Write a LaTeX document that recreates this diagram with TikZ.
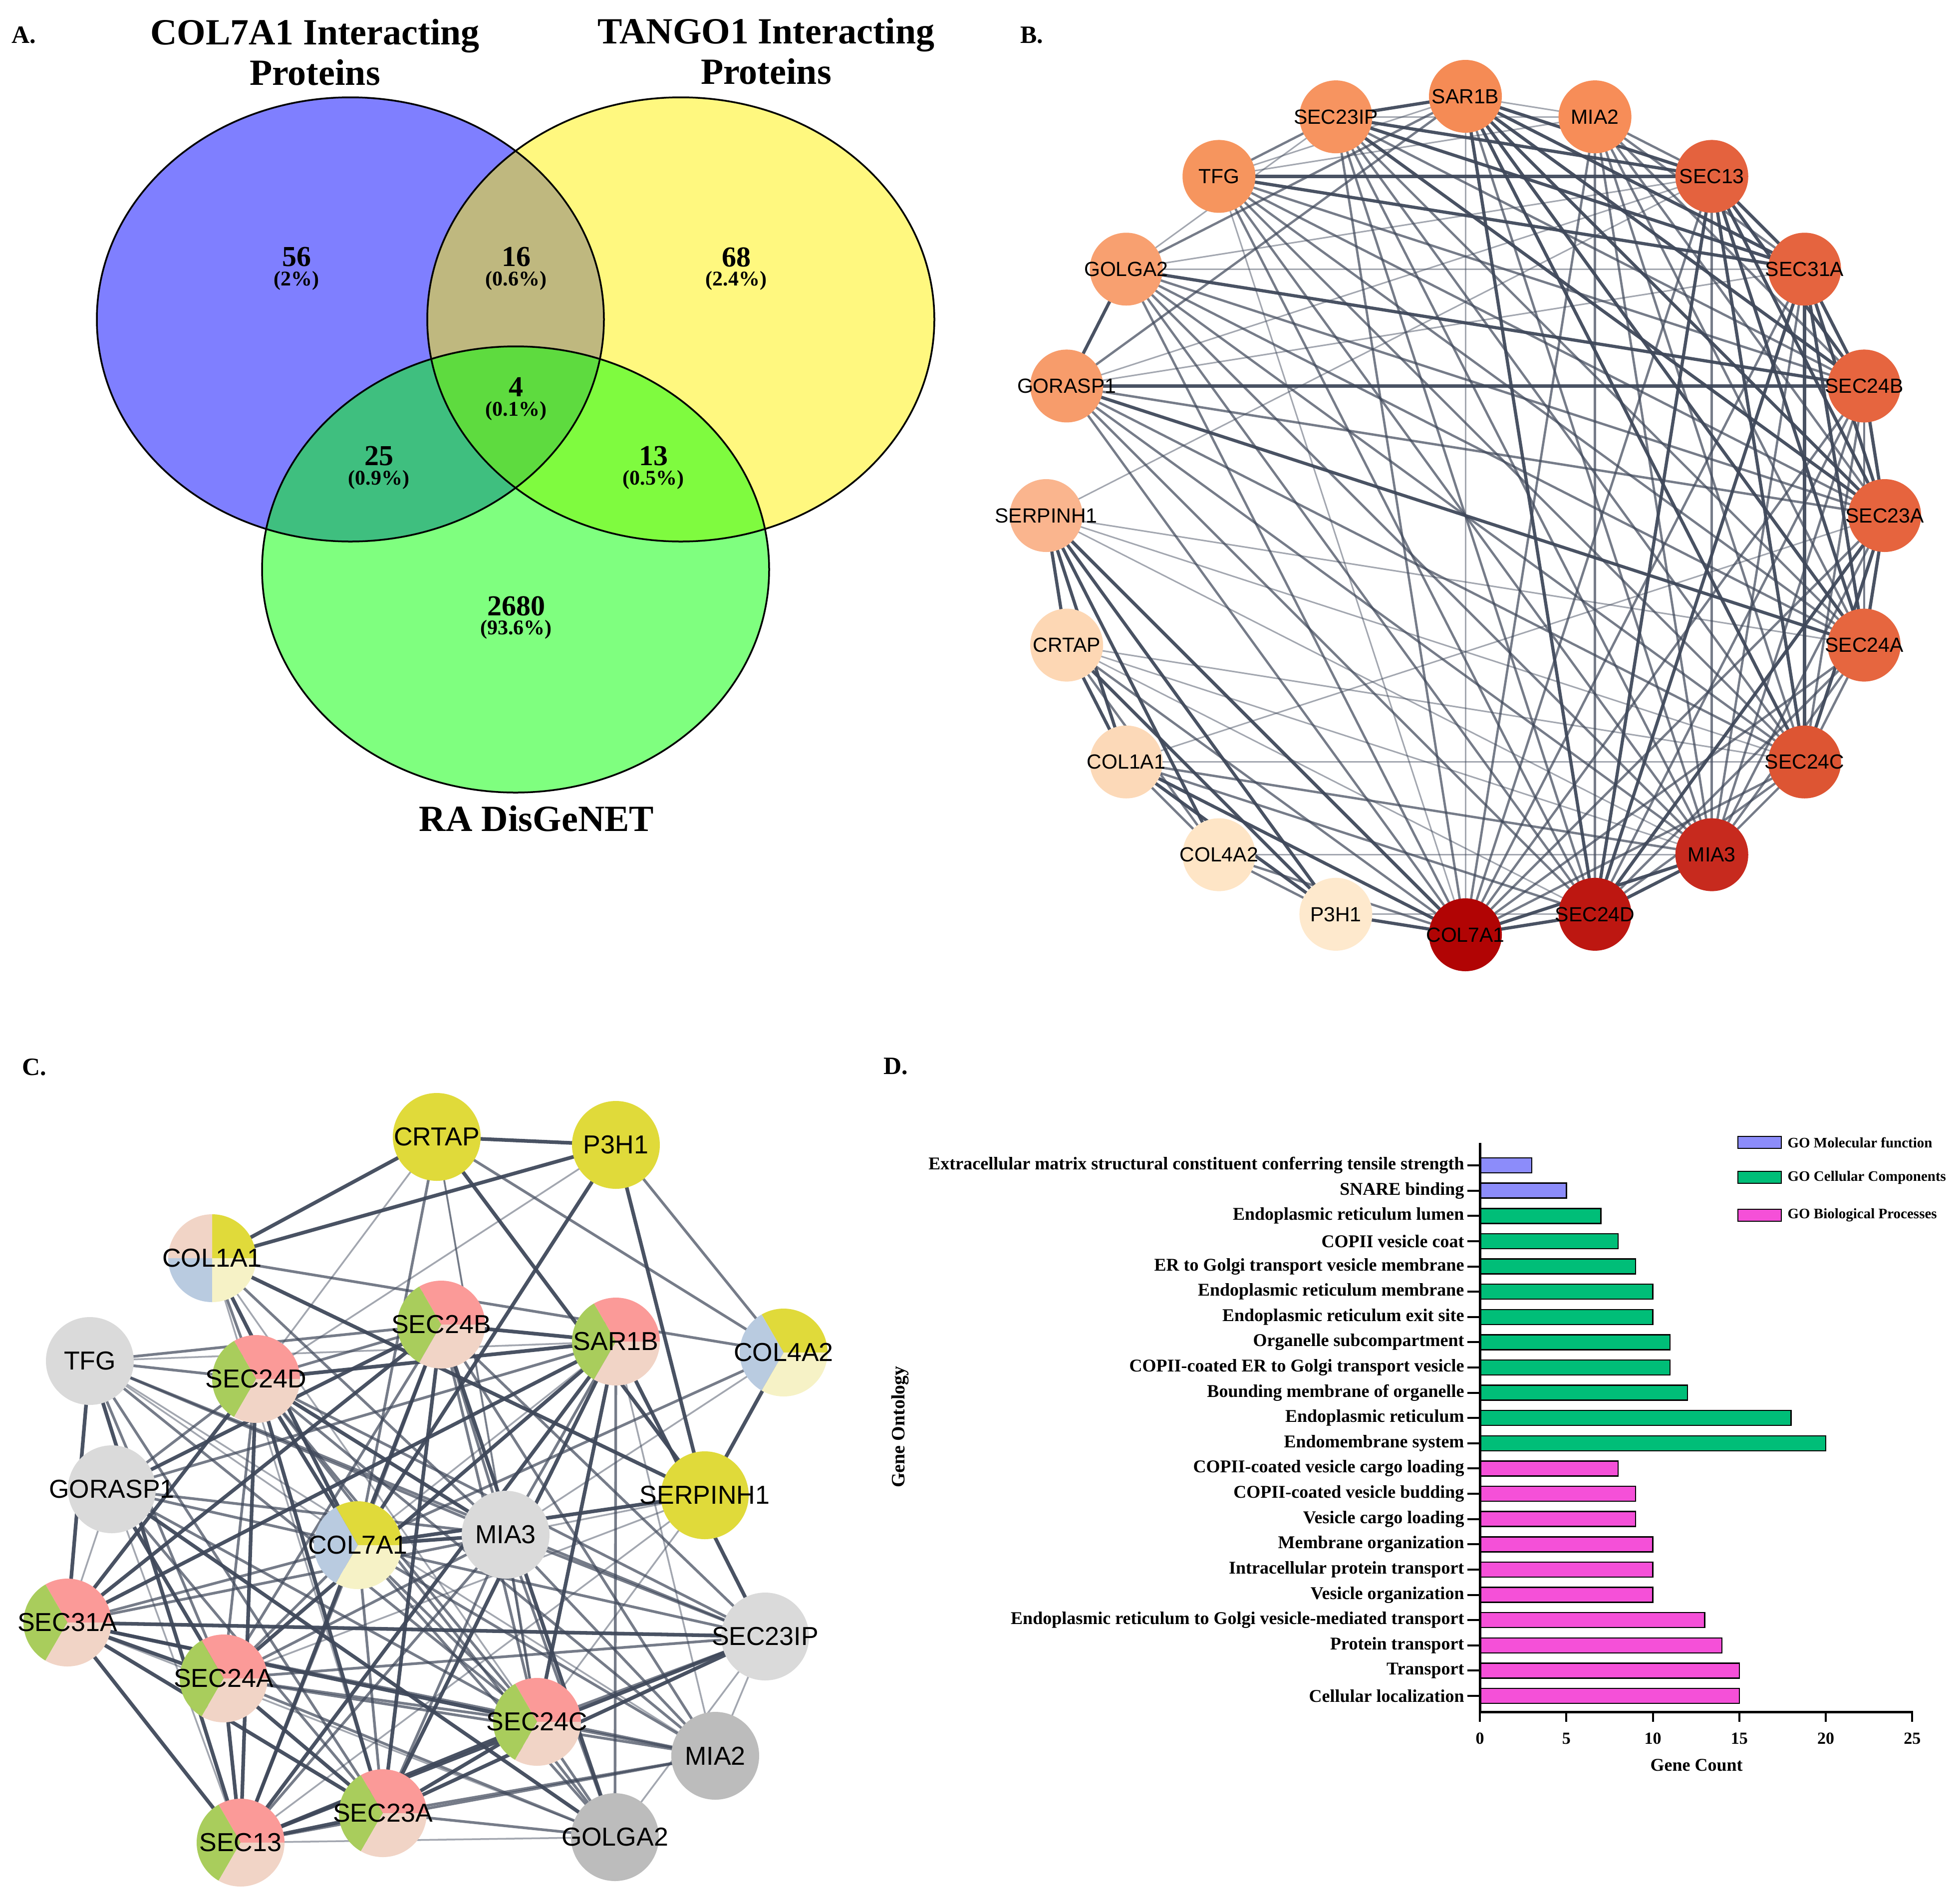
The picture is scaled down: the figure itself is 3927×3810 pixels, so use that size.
\documentclass[tikz,border=0pt]{standalone}
\usepackage{fontspec}
\setmainfont{Liberation Serif}
\newfontfamily\nodefont{Liberation Sans}
\usetikzlibrary{backgrounds}
\definecolor{edgec}{HTML}{3E4759}
\definecolor{bsar}{HTML}{F58B55}
\definecolor{bmia2}{HTML}{F78D58}
\definecolor{bs23ip}{HTML}{F79460}
\definecolor{btfg}{HTML}{F6955E}
\definecolor{bgolga}{HTML}{F8A070}
\definecolor{bgorasp}{HTML}{F79C6B}
\definecolor{bserp}{HTML}{FAB58E}
\definecolor{bcrtap}{HTML}{FDD7B4}
\definecolor{bcol1}{HTML}{FCD9B8}
\definecolor{bcol4}{HTML}{FEE5C6}
\definecolor{bp3h1}{HTML}{FEE9CD}
\definecolor{bs13}{HTML}{E4623E}
\definecolor{bs31}{HTML}{E5643F}
\definecolor{bs24b}{HTML}{E6653F}
\definecolor{bs23a}{HTML}{E6643E}
\definecolor{bs24a}{HTML}{E6663F}
\definecolor{bs24c}{HTML}{DD5533}
\definecolor{bmia3}{HTML}{C72A1E}
\definecolor{bs24d}{HTML}{BD1711}
\definecolor{bcol7}{HTML}{B10404}
\definecolor{ppink}{HTML}{FB9A98}
\definecolor{pgreen}{HTML}{A9CD5C}
\definecolor{ppeach}{HTML}{F1D4C6}
\definecolor{pyellow}{HTML}{E0DA3A}
\definecolor{pblue}{HTML}{B9CBE0}
\definecolor{pcream}{HTML}{F6F2C6}
\definecolor{glight}{HTML}{DADADA}
\definecolor{gdark}{HTML}{BCBCBC}
\definecolor{mfcol}{HTML}{8C8CFA}
\definecolor{cccol}{HTML}{00BE78}
\definecolor{bpcol}{HTML}{F550D8}
\def\edgelist{s13/s31/3,s13/s23a/3,s13/s24a/3,s13/s24b/3,s13/s24c/3,s13/s24d/3,s13/sar/3,
s31/s23a/3,s31/s24a/3,s31/s24b/3,s31/s24c/3,s31/s24d/3,s31/sar/3,
s23a/s24a/3,s23a/s24b/3,s23a/s24c/3,s23a/s24d/3,s23a/sar/3,
s24a/s24b/2,s24a/s24c/2,s24a/s24d/2,s24a/sar/3,s24b/s24c/2,s24b/s24d/2,s24b/sar/3,
s24c/s24d/2,s24c/sar/3,s24d/sar/3,
mia3/s13/2,mia3/s31/2,mia3/s23a/2,mia3/s24a/2,mia3/s24b/2,mia3/s24c/2,mia3/s24d/3,mia3/sar/2,
mia3/col7/3,mia3/mia2/2,mia3/s23ip/2,mia3/tfg/2,mia3/serp/1,mia3/gorasp/2,mia3/golga/2,mia3/col1/2,mia3/col4/1,mia3/crtap/1,
col7/sar/1,col7/mia2/2,col7/s13/2,col7/s31/2,col7/s24b/2,col7/s23a/2,col7/s24a/2,col7/s24c/2,col7/s24d/3,
col7/p3h1/3,col7/col4/2,col7/col1/3,col7/crtap/2,col7/serp/3,col7/gorasp/2,col7/golga/2,col7/tfg/1,col7/s23ip/2,
mia2/sar/1,mia2/s13/2,mia2/s31/2,mia2/s24b/2,mia2/s23a/2,mia2/s24a/2,mia2/s24c/2,mia2/s24d/2,mia2/s23ip/1,mia2/tfg/1,
s23ip/sar/3,s23ip/tfg/2,s23ip/s13/3,s23ip/s31/3,s23ip/s24b/2,s23ip/s23a/3,s23ip/s24a/2,s23ip/s24c/2,s23ip/s24d/2,s23ip/golga/1,
tfg/s13/3,tfg/s31/3,tfg/sar/1,tfg/s24b/2,tfg/s23a/2,tfg/s24a/2,tfg/s24c/2,tfg/s24d/2,
golga/gorasp/3,golga/s31/1,golga/s24b/3,golga/s13/1,golga/s23a/2,golga/s24a/2,golga/s24c/2,golga/s24d/2,golga/sar/2,
gorasp/s24b/3,gorasp/s31/1,gorasp/s13/1,gorasp/s23a/2,gorasp/s24a/3,gorasp/s24c/2,gorasp/s24d/2,gorasp/sar/2,
serp/crtap/3,serp/col1/3,serp/col4/3,serp/p3h1/3,serp/s24c/1,serp/s24a/1,serp/s13/1,
crtap/col1/3,crtap/col4/2,crtap/p3h1/3,crtap/s24c/1,crtap/s24d/1,
col1/col4/2,col1/p3h1/3,col1/s24c/1,col1/s24d/2,col1/s23a/1,
col4/p3h1/2,p3h1/s24d/1}
\begin{document}
\begin{tikzpicture}[x=1pt,y=-1pt,
  plabel/.style={font=\bfseries\fontsize{50}{50}\selectfont},
  vtitle/.style={font=\bfseries\fontsize{74}{81}\selectfont,align=center},
  vnum/.style={font=\bfseries\fontsize{58}{58}\selectfont},
  vpct/.style={font=\bfseries\fontsize{42}{42}\selectfont},
  bnode/.style={circle,minimum size=146pt,inner sep=0pt,font=\nodefont\fontsize{41}{41}\selectfont},
  cnode/.style={circle,minimum size=176pt,inner sep=0pt,font=\nodefont\fontsize{52}{52}\selectfont},
  pieT/.style n args={3}{path picture={
    \fill[#1] (path picture bounding box.center) -- ++(0:120pt) arc[start angle=0,end angle=120,radius=120pt] -- cycle;
    \fill[#2] (path picture bounding box.center) -- ++(120:120pt) arc[start angle=120,end angle=240,radius=120pt] -- cycle;
    \fill[#3] (path picture bounding box.center) -- ++(240:120pt) arc[start angle=240,end angle=360,radius=120pt] -- cycle;}},
  pieQ/.style n args={4}{path picture={
    \fill[#1] (path picture bounding box.center) -- ++(0:120pt) arc[start angle=0,end angle=90,radius=120pt] -- cycle;
    \fill[#2] (path picture bounding box.center) -- ++(90:120pt) arc[start angle=90,end angle=180,radius=120pt] -- cycle;
    \fill[#3] (path picture bounding box.center) -- ++(180:120pt) arc[start angle=180,end angle=270,radius=120pt] -- cycle;
    \fill[#4] (path picture bounding box.center) -- ++(270:120pt) arc[start angle=270,end angle=360,radius=120pt] -- cycle;}},
  copii/.style={pieT={ppink}{pgreen}{ppeach}},
  colpie/.style={pieT={pyellow}{pblue}{pcream}},
  dlab/.style={font=\bfseries\fontsize{36}{36}\selectfont},
  dtick/.style={font=\bfseries\fontsize{34}{34}\selectfont},
  dleg/.style={font=\bfseries\fontsize{29}{29}\selectfont},
  barbox/.style={draw=black,line width=2.5pt}
]
\useasboundingbox (0,0) rectangle (3927,3810);

%% ---------------- Panel A ----------------
\node[plabel] (la) at (48,70) {A.};
\node[vtitle] (ta1) at (631,105) {COL7A1 Interacting\\Proteins};
\node[vtitle] (ta2) at (1535,103) {TANGO1 Interacting\\Proteins};
\fill[blue,fill opacity=0.5] (702,640) ellipse [x radius=508pt,y radius=445pt];
\fill[yellow,fill opacity=0.5] (1364,640) ellipse [x radius=508pt,y radius=445pt];
\fill[green,fill opacity=0.5] (1033,1141) ellipse [x radius=508pt,y radius=447pt];
\draw[line width=3.5pt] (702,640) ellipse [x radius=508pt,y radius=445pt];
\draw[line width=3.5pt] (1364,640) ellipse [x radius=508pt,y radius=445pt];
\draw[line width=3.5pt] (1033,1141) ellipse [x radius=508pt,y radius=447pt];
\node[vnum] (n1) at (594,515) {56};   \node[vpct] (q1) at (594,562) {(2\%)};
\node[vnum] (n2) at (1034,515) {16};  \node[vpct] (q2) at (1034,562) {(0.6\%)};
\node[vnum] (n3) at (1475,515) {68};  \node[vpct] (q3) at (1475,562) {(2.4\%)};
\node[vnum] (n4) at (1034,775) {4};   \node[vpct] (q4) at (1034,823) {(0.1\%)};
\node[vnum] (n5) at (759,914) {25};   \node[vpct] (q5) at (759,961) {(0.9\%)};
\node[vnum] (n6) at (1309,914) {13};  \node[vpct] (q6) at (1309,961) {(0.5\%)};
\node[vnum] (n7) at (1034,1214) {2680}; \node[vpct] (q7) at (1034,1261) {(93.6\%)};
\node[vtitle] (ta3) at (1075,1640) {RA DisGeNET};

%% ---------------- Panel B ----------------
\node[plabel] (lb) at (2067,70) {B.};
\foreach \n/\a/\c/\t in {sar/90/bsar/SAR1B, mia2/72/bmia2/MIA2, s13/54/bs13/SEC13, s31/36/bs31/SEC31A,
  s24b/18/bs24b/SEC24B, s23a/0/bs23a/SEC23A, s24a/-18/bs24a/SEC24A, s24c/-36/bs24c/SEC24C,
  mia3/-54/bmia3/MIA3, s24d/-72/bs24d/SEC24D, col7/-90/bcol7/COL7A1, p3h1/-108/bp3h1/P3H1,
  col4/-126/bcol4/COL4A2, col1/-144/bcol1/COL1A1, crtap/-162/bcrtap/CRTAP, serp/180/bserp/SERPINH1,
  gorasp/162/bgorasp/GORASP1, golga/144/bgolga/GOLGA2, tfg/126/btfg/TFG, s23ip/108/bs23ip/SEC23IP}
  {\node[bnode,fill=\c] (b\n) at ({2936+840*cos(\a)},{1033-840*sin(\a)}) {\makebox[0pt]{\t}};}

%% ---------------- Panel C ----------------
\node[plabel] (lc) at (69,2138) {C.};
\node[cnode,fill=pyellow] (ccrtap) at (875,2278) {\makebox[0pt]{CRTAP}};
\node[cnode,fill=pyellow] (cp3h1) at (1234,2294) {\makebox[0pt]{P3H1}};
\node[cnode,pieQ={pyellow}{ppeach}{pblue}{pcream}] (ccol1) at (425,2521) {\makebox[0pt]{COL1A1}};
\node[cnode,copii] (cs24b) at (884,2654) {\makebox[0pt]{SEC24B}};
\node[cnode,copii] (csar) at (1234,2688) {\makebox[0pt]{SAR1B}};
\node[cnode,colpie] (ccol4) at (1570,2710) {\makebox[0pt]{COL4A2}};
\node[cnode,fill=glight] (ctfg) at (180,2727) {\makebox[0pt]{TFG}};
\node[cnode,copii] (cs24d) at (513,2763) {\makebox[0pt]{SEC24D}};
\node[cnode,fill=glight] (cgorasp) at (224,2984) {\makebox[0pt]{GORASP1}};
\node[cnode,fill=pyellow] (cserp) at (1412,2996) {\makebox[0pt]{SERPINH1}};
\node[cnode,colpie] (ccol7) at (717,3096) {\makebox[0pt]{COL7A1}};
\node[cnode,fill=glight] (cmia3) at (1013,3075) {\makebox[0pt]{MIA3}};
\node[cnode,copii] (cs31) at (135,3251) {\makebox[0pt]{SEC31A}};
\node[cnode,fill=glight] (cs23ip) at (1533,3279) {\makebox[0pt]{SEC23IP}};
\node[cnode,copii] (cs24a) at (448,3363) {\makebox[0pt]{SEC24A}};
\node[cnode,copii] (cs24c) at (1076,3450) {\makebox[0pt]{SEC24C}};
\node[cnode,fill=gdark] (cmia2) at (1433,3518) {\makebox[0pt]{MIA2}};
\node[cnode,copii] (cs23a) at (767,3633) {\makebox[0pt]{SEC23A}};
\node[cnode,fill=gdark] (cgolga) at (1232,3681) {\makebox[0pt]{GOLGA2}};
\node[cnode,copii] (cs13) at (482,3692) {\makebox[0pt]{SEC13}};

\begin{pgfonlayer}{background}
\foreach \u/\v/\w in \edgelist {
  \pgfmathsetmacro\lwb{1.3+1.7*\w}
  \pgfmathsetmacro\lwc{1.6+1.9*\w}
  \pgfmathsetmacro\op{0.25+0.23*\w}
  \draw[line width=\lwb pt,draw=edgec,draw opacity=\op] (b\u.center) -- (b\v.center);
  \draw[line width=\lwc pt,draw=edgec,draw opacity=\op] (c\u.center) -- (c\v.center);
}
\end{pgfonlayer}

%% ---------------- Panel D ----------------
\node[plabel] (ld) at (1795,2136) {D.};
\foreach \v/\c/\t [count=\i from 0] in {
 3/mfcol/Extracellular matrix structural constituent conferring tensile strength,
 5/mfcol/SNARE binding,
 7/cccol/Endoplasmic reticulum lumen,
 8/cccol/COPII vesicle coat,
 9/cccol/ER to Golgi transport vesicle membrane,
 10/cccol/Endoplasmic reticulum membrane,
 10/cccol/Endoplasmic reticulum exit site,
 11/cccol/Organelle subcompartment,
 11/cccol/COPII-coated ER to Golgi transport vesicle,
 12/cccol/Bounding membrane of organelle,
 18/cccol/Endoplasmic reticulum,
 20/cccol/Endomembrane system,
 8/bpcol/COPII-coated vesicle cargo loading,
 9/bpcol/COPII-coated vesicle budding,
 9/bpcol/Vesicle cargo loading,
 10/bpcol/Membrane organization,
 10/bpcol/Intracellular protein transport,
 10/bpcol/Vesicle organization,
 13/bpcol/Endoplasmic reticulum to Golgi vesicle-mediated transport,
 14/bpcol/Protein transport,
 15/bpcol/Transport,
 15/bpcol/Cellular localization}
{
  \pgfmathsetmacro\yy{2335+\i*50.62}
  \draw[barbox,fill=\c] (2965,{\yy-15}) rectangle ({2965+34.65*\v},{\yy+15});
  \draw[line width=4pt] (2940,\yy) -- (2965,\yy);
  \node[dlab,anchor=east] (dl\i) at (2937,\yy) {\t};
}
\draw[line width=5pt] (2965,2290) -- (2965,3430) -- (3833,3430);
\foreach \k in {0,5,10,15,20,25} {
  \draw[line width=4pt] ({2965+34.65*\k},3430) -- ({2965+34.65*\k},3450);
  \node[dtick] (dt\k) at ({2965+34.65*\k},3483) {\k};
}
\node[dlab] (dxl) at (3399,3537) {Gene Count};
\node[dlab,rotate=90,font=\bfseries\fontsize{38}{38}\selectfont] (dyl) at (1803,2859) {Gene Ontology};
\draw[barbox,line width=2pt,fill=mfcol] (3482,2277) rectangle (3569,2301);
\draw[barbox,line width=2pt,fill=cccol] (3482,2347) rectangle (3569,2371);
\draw[barbox,line width=2pt,fill=bpcol] (3482,2423) rectangle (3569,2447);
\node[dleg,anchor=west] (g1) at (3578,2289) {GO Molecular function};
\node[dleg,anchor=west] (g2) at (3578,2359) {GO Cellular Components};
\node[dleg,anchor=west] (g3) at (3578,2435) {GO Biological Processes};
\end{tikzpicture}
\end{document}
